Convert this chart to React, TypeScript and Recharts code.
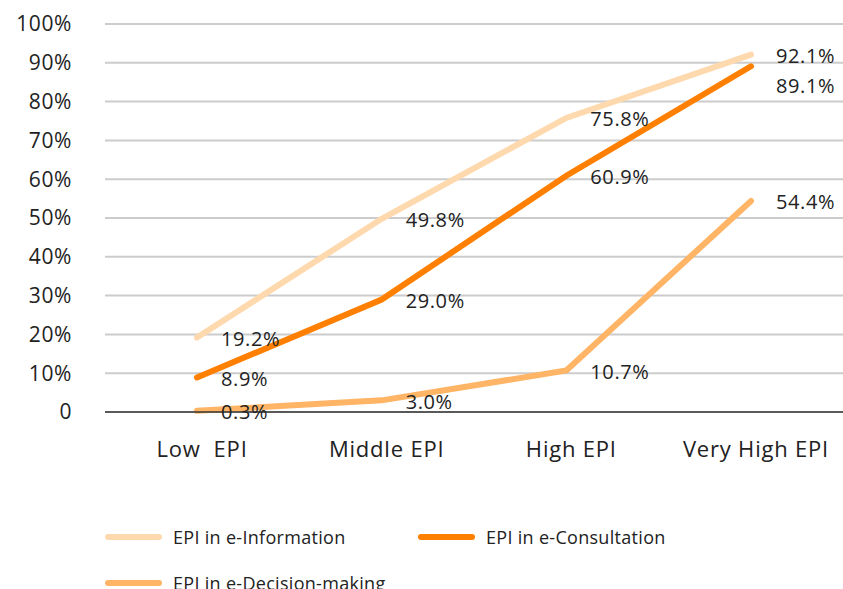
import React from 'react';
import { LineChart, Line, XAxis, YAxis, CartesianGrid, LabelList } from 'recharts';

const categories = ['Low\u00a0 EPI', 'Middle EPI', 'High EPI', 'Very High EPI'];
const eInformation = [19.2, 49.8, 75.8, 92.1];
const eConsultation = [8.9, 29.0, 60.9, 89.1];
const eDecision = [0.3, 3.0, 10.7, 54.4];
const yTicks = [0, 10, 20, 30, 40, 50, 60, 70, 80, 90, 100];

const COLORS = {
  info: '#FFD9AE',
  consult: '#FF8000',
  decision: '#FFB466',
};

const FONT = '"Open Sans", "Noto Sans", sans-serif';

const data = categories.map((name, i) => ({
  name,
  info: eInformation[i],
  consult: eConsultation[i],
  decision: eDecision[i],
}));

// value label to the right of each point; the last consultation label is pushed down to clear 92.1%
const makeLabel = (shiftLast: number) => (props: any) => {
  const { x, y, value, index } = props;
  const last = index === categories.length - 1;
  return (
    <text
      x={x + (last ? 25 : 24)}
      y={y + 3 + (last ? shiftLast : 0)}
      fill="#222"
      fontSize={20}
      letterSpacing={0.6}
      fontFamily={FONT}
      dominantBaseline="middle"
      textAnchor="start"
    >
      {Number(value).toFixed(1)}%
    </text>
  );
};

const legendItems = [
  { label: 'EPI in e-Information', color: COLORS.info, left: 105, top: 537 },
  { label: 'EPI in e-Consultation', color: COLORS.consult, left: 418, top: 537 },
  { label: 'EPI in e-Decision-making', color: COLORS.decision, left: 105, top: 583 },
];

export default function App() {
  return (
    <div style={{ position: 'relative', width: 843, height: 589, background: '#fff', overflow: 'hidden' }}>
      <style>{'body{margin:0}'}</style>
      <LineChart width={843} height={589} data={data} margin={{ top: 24, right: 0, left: 0, bottom: 117 }}>
        <CartesianGrid horizontal vertical={false} stroke="#CCCCCC" strokeWidth={2} />
        <XAxis
          dataKey="name"
          axisLine={{ stroke: '#333', strokeWidth: 1.5 }}
          tickLine={false}
          tickSize={0}
          tickMargin={29}
          height={60}
          interval={0}
          padding={{ left: 92, right: 92 }}
          tick={{ fill: '#222', fontSize: 22, fontFamily: FONT, letterSpacing: 0.8, dx: 5 }}
        />
        <YAxis
          domain={[0, 100]}
          ticks={yTicks}
          width={105}
          axisLine={false}
          tickLine={false}
          tickSize={0}
          tickMargin={33}
          interval={0}
          tickFormatter={(v: number) => (v === 0 ? '0' : `${v}%`)}
          tick={{ fill: '#222', fontSize: 21, fontFamily: FONT, letterSpacing: 0.6 }}
        />
        <Line type="linear" dataKey="info" stroke={COLORS.info} strokeWidth={6} strokeLinecap="round" dot={false} isAnimationActive={false}>
          <LabelList dataKey="info" content={makeLabel(0)} />
        </Line>
        <Line type="linear" dataKey="decision" stroke={COLORS.decision} strokeWidth={6} strokeLinecap="round" dot={false} isAnimationActive={false}>
          <LabelList dataKey="decision" content={makeLabel(0)} />
        </Line>
        <Line type="linear" dataKey="consult" stroke={COLORS.consult} strokeWidth={6} strokeLinecap="round" dot={false} isAnimationActive={false}>
          <LabelList dataKey="consult" content={makeLabel(18)} />
        </Line>
      </LineChart>
      {legendItems.map((item) => (
        <div
          key={item.label}
          style={{
            position: 'absolute',
            left: item.left,
            top: item.top - 12,
            height: 24,
            display: 'flex',
            alignItems: 'center',
            fontFamily: FONT,
            fontSize: 18,
            letterSpacing: 0.3,
            color: '#222',
            whiteSpace: 'nowrap',
          }}
        >
          <span style={{ display: 'inline-block', width: 57, height: 6, borderRadius: 3, background: item.color, marginRight: 11 }} />
          {item.label}
        </div>
      ))}
    </div>
  );
}
